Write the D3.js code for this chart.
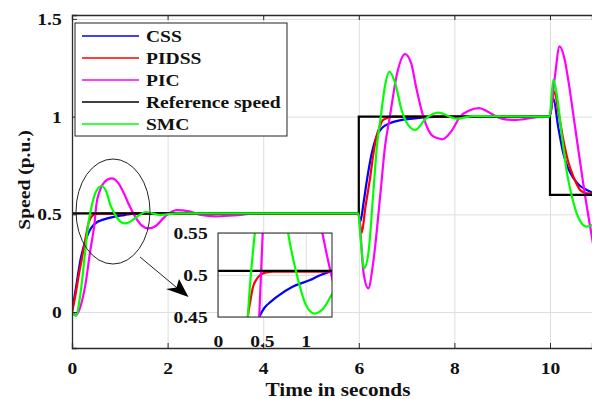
<!DOCTYPE html>
<html>
<head>
    <title>Speed response</title>
    <script src="https://d3js.org/d3.v7.min.js"></script>
    <style>
        body { margin: 0; background: #fff; }
        text { font-family: "Liberation Serif", "Times New Roman", serif; font-weight: bold; fill: #111; }
    </style>
</head>
<body>
<script>
    // values: [time (s), speed (p.u.)]
    var refSpeed = [[0, 0.505], [6, 1.0], [10, 0.6], [11, 0.6]];

    var css = [[0, 0], [0.08, 0.12], [0.18, 0.27], [0.31, 0.385], [0.4, 0.43], [0.47, 0.45], [0.53, 0.461],
        [0.6, 0.468], [0.67, 0.474], [0.85, 0.486], [1.05, 0.494], [1.15, 0.499], [1.3, 0.504], [1.6, 0.505],
        [5.99, 0.505], [6.03, 0.462], [6.1, 0.56], [6.16, 0.659], [6.26, 0.8], [6.37, 0.898], [6.5, 0.945],
        [6.65, 0.966], [6.9, 0.983], [7.13, 0.99], [7.7, 1.0], [9.99, 1.0], [10.07, 1.094], [10.17, 0.95],
        [10.28, 0.81], [10.38, 0.735], [10.49, 0.685], [10.63, 0.645], [10.77, 0.625], [10.9, 0.61]];

    var pidss = [[0, 0], [0.06, 0.07], [0.15, 0.2], [0.25, 0.33], [0.3, 0.4], [0.34, 0.45], [0.37, 0.47],
        [0.4, 0.486], [0.44, 0.495], [0.48, 0.5], [0.55, 0.503], [0.63, 0.504], [5.99, 0.504], [6.06, 0.406],
        [6.14, 0.54], [6.23, 0.676], [6.3, 0.8], [6.37, 0.898], [6.44, 0.95], [6.51, 0.983], [6.72, 1.0],
        [9.99, 1.0], [10.09, 1.128], [10.18, 1.02], [10.28, 0.88], [10.38, 0.77], [10.49, 0.693],
        [10.63, 0.625], [10.77, 0.607], [10.9, 0.604]];

    var pic = [[0, 0], [0.08, -0.015], [0.18, 0.03], [0.28, 0.14], [0.38, 0.31], [0.44, 0.4], [0.47, 0.45],
        [0.51, 0.55], [0.58, 0.62], [0.68, 0.665], [0.83, 0.684], [0.97, 0.66], [1.1, 0.6], [1.19, 0.55],
        [1.3, 0.497], [1.45, 0.445], [1.6, 0.428], [1.75, 0.44], [1.95, 0.49], [2.19, 0.522], [2.45, 0.515],
        [2.7, 0.497], [3.0, 0.49], [3.4, 0.494], [3.8, 0.503], [4.3, 0.505], [5.99, 0.505], [6.1, 0.2],
        [6.2, 0.121], [6.3, 0.25], [6.45, 0.6], [6.55, 0.85], [6.65, 1.0], [6.8, 1.22], [6.97, 1.32],
        [7.1, 1.27], [7.2, 1.15], [7.35, 1.0], [7.55, 0.9], [7.75, 0.884], [7.95, 0.93], [8.12, 1.0],
        [8.3, 1.03], [8.52, 1.043], [8.7, 1.025], [8.88, 1.0], [9.1, 0.985], [9.3, 0.983], [9.72, 0.997],
        [9.99, 1.0], [10.1, 1.2], [10.2, 1.359], [10.3, 1.3], [10.4, 1.16], [10.5, 0.99], [10.7, 0.65],
        [10.9, 0.35]];

    var smc = [[0, 0], [0.08, -0.02], [0.18, 0.1], [0.28, 0.32], [0.34, 0.45], [0.42, 0.55], [0.5, 0.615],
        [0.62, 0.645], [0.72, 0.615], [0.8, 0.55], [0.9, 0.5], [1.0, 0.465], [1.1, 0.454], [1.2, 0.46],
        [1.3, 0.477], [1.55, 0.512], [1.85, 0.497], [2.2, 0.505], [5.99, 0.505], [6.03, 0.4], [6.11, 0.224],
        [6.2, 0.3], [6.3, 0.6], [6.38, 0.85], [6.46, 1.0], [6.55, 1.16], [6.64, 1.23], [6.75, 1.18],
        [6.9, 1.03], [7.0, 0.97], [7.18, 0.932], [7.4, 0.99], [7.66, 1.02], [8.05, 0.99], [8.4, 1.003],
        [9.99, 1.0], [10.07, 1.19], [10.15, 1.1], [10.25, 0.9], [10.35, 0.72], [10.45, 0.6], [10.6, 0.48],
        [10.77, 0.437], [10.9, 0.447]];

    var seriesNames = ["CSS", "PIDSS", "PIC", "Reference speed", "SMC"];
    var xTicks = [0, 2, 4, 6, 8, 10];
    var yTicks = [0, 0.5, 1, 1.5];
    var insetXTicks = [0, 0.5, 1];
    var insetYTicks = [0.45, 0.5, 0.55];

    var width = 592, height = 399;
    var stretch = "scale(1.15,1)";   // the original fonts are drawn wide

    var svg = d3.select("body").append("svg")
        .attr("width", width)
        .attr("height", height);

    var x = d3.scaleLinear().domain([0, 10.879]).range([72, 592]);
    var y = d3.scaleLinear().domain([-0.184, 1.52]).range([348, 15]);

    var series = [
        {name: seriesNames[0], data: css, color: "#0000ff", step: false},
        {name: seriesNames[1], data: pidss, color: "#ff0000", step: false},
        {name: seriesNames[2], data: pic, color: "#ff00ff", step: false},
        {name: seriesNames[3], data: refSpeed, color: "#000000", step: true},
        {name: seriesNames[4], data: smc, color: "#00ff00", step: false}
    ];

    var defs = svg.append("defs");
    defs.append("clipPath").attr("id", "plot-clip").append("rect")
        .attr("x", 72).attr("y", 15).attr("width", 520).attr("height", 333);

    // grid
    svg.append("g")
        .attr("transform", "translate(0,348)")
        .call(d3.axisBottom(x).tickValues(xTicks).tickSize(-333).tickFormat(""))
        .call(function(g) { g.select(".domain").remove(); })
        .selectAll("line").attr("stroke", "#dedede");
    svg.append("g")
        .attr("transform", "translate(72,0)")
        .call(d3.axisLeft(y).tickValues(yTicks).tickSize(-520).tickFormat(""))
        .call(function(g) { g.select(".domain").remove(); })
        .selectAll("line").attr("stroke", "#dedede");

    // curves
    var plot = svg.append("g").attr("clip-path", "url(#plot-clip)");
    series.forEach(function(s) {
        var line = d3.line()
            .x(function(d) { return x(d[0]); })
            .y(function(d) { return y(d[1]); })
            .curve(s.step ? d3.curveStepAfter : d3.curveMonotoneX);
        plot.append("path")
            .datum(s.data)
            .attr("fill", "none")
            .attr("stroke", s.color)
            .attr("stroke-width", 2.2)
            .attr("d", line);
    });

    // axes
    var xAxis = svg.append("g")
        .attr("transform", "translate(0,348)")
        .call(d3.axisBottom(x).tickValues(xTicks).tickSize(-5).tickPadding(14).tickFormat(d3.format("d")));
    var yAxis = svg.append("g")
        .attr("transform", "translate(72,0)")
        .call(d3.axisLeft(y).tickValues(yTicks).tickSize(-5).tickPadding(9).tickFormat(function(d) { return String(d); }));
    var topAxis = svg.append("g")
        .attr("transform", "translate(0,15)")
        .call(d3.axisTop(x).tickValues(xTicks).tickSize(-5).tickFormat(""));
    [xAxis, yAxis, topAxis].forEach(function(g) {
        g.select(".domain").attr("stroke", "#2b2b2b").attr("stroke-width", 1.3);
        g.selectAll(".tick line").attr("stroke", "#2b2b2b");
        g.selectAll("text")
            .attr("font-family", "Liberation Serif, serif")
            .attr("font-weight", "bold")
            .attr("font-size", 17)
            .attr("fill", "#111")
            .attr("transform", stretch);
    });

    svg.append("text")
        .attr("transform", "translate(338,396) " + stretch)
        .attr("text-anchor", "middle")
        .attr("font-size", 18.5)
        .text("Time in seconds");
    svg.append("text")
        .attr("transform", "translate(30,180) rotate(-90) " + stretch)
        .attr("text-anchor", "middle")
        .attr("font-size", 17)
        .text("Speed (p.u.)");

    // legend
    var legend = svg.append("g");
    legend.append("rect")
        .attr("x", 75).attr("y", 23).attr("width", 212).attr("height", 113)
        .attr("fill", "#fff").attr("stroke", "#222").attr("stroke-width", 1);
    series.forEach(function(s, i) {
        var ly = 36 + i * 22;
        legend.append("line")
            .attr("x1", 82).attr("x2", 139).attr("y1", ly).attr("y2", ly)
            .attr("stroke", s.color).attr("stroke-width", 1.6);
        legend.append("text")
            .attr("transform", "translate(146," + (ly + 6) + ") " + stretch)
            .attr("font-size", 17)
            .text(s.name);
    });

    // zoom marker
    svg.append("ellipse")
        .attr("cx", 113).attr("cy", 211.5).attr("rx", 37).attr("ry", 52.5)
        .attr("fill", "none").attr("stroke", "#222").attr("stroke-width", 1);
    svg.append("line")
        .attr("x1", 140).attr("y1", 257).attr("x2", 182).attr("y2", 292)
        .attr("stroke", "#222").attr("stroke-width", 1);
    svg.append("path")
        .attr("d", "M188.5,297 L166,289 L176.5,287.5 L179,279 Z")
        .attr("fill", "#000");

    // inset
    var ix = d3.scaleLinear().domain([0, 1.3]).range([218, 332]);
    var iy = d3.scaleLinear().domain([0.45, 0.55]).range([317, 233]);
    var inset = svg.append("g");
    inset.append("rect")
        .attr("x", 218).attr("y", 233).attr("width", 114).attr("height", 84)
        .attr("fill", "#fff");
    defs.append("clipPath").attr("id", "inset-clip").append("rect")
        .attr("x", 218).attr("y", 233).attr("width", 114).attr("height", 84);
    inset.append("g")
        .attr("transform", "translate(0,317)")
        .call(d3.axisBottom(ix).tickValues(insetXTicks).tickSize(-84).tickFormat(""))
        .call(function(g) { g.select(".domain").remove(); })
        .selectAll("line").attr("stroke", "#dedede");
    inset.append("g")
        .attr("transform", "translate(218,0)")
        .call(d3.axisLeft(iy).tickValues(insetYTicks).tickSize(-114).tickFormat(""))
        .call(function(g) { g.select(".domain").remove(); })
        .selectAll("line").attr("stroke", "#dedede");
    var insetPlot = inset.append("g").attr("clip-path", "url(#inset-clip)");
    series.forEach(function(s) {
        var line = d3.line()
            .x(function(d) { return ix(d[0]); })
            .y(function(d) { return iy(d[1]); })
            .curve(s.step ? d3.curveStepAfter : d3.curveMonotoneX);
        insetPlot.append("path")
            .datum(s.data)
            .attr("fill", "none")
            .attr("stroke", s.color)
            .attr("stroke-width", 2.2)
            .attr("d", line);
    });
    inset.append("rect")
        .attr("x", 218).attr("y", 233).attr("width", 114).attr("height", 84)
        .attr("fill", "none").attr("stroke", "#222").attr("stroke-width", 1);
    var ixAxis = inset.append("g")
        .attr("transform", "translate(0,317)")
        .call(d3.axisBottom(ix).tickValues(insetXTicks).tickSize(0).tickPadding(18).tickFormat(function(d) { return String(d); }));
    var iyAxis = inset.append("g")
        .attr("transform", "translate(218,0)")
        .call(d3.axisLeft(iy).tickValues(insetYTicks).tickSize(0).tickPadding(9).tickFormat(function(d) { return String(d); }));
    [ixAxis, iyAxis].forEach(function(g) {
        g.select(".domain").remove();
        g.selectAll("text")
            .attr("font-family", "Liberation Serif, serif")
            .attr("font-weight", "bold")
            .attr("font-size", 17)
            .attr("fill", "#333")
            .attr("transform", stretch);
    });
</script>
</body>
</html>
